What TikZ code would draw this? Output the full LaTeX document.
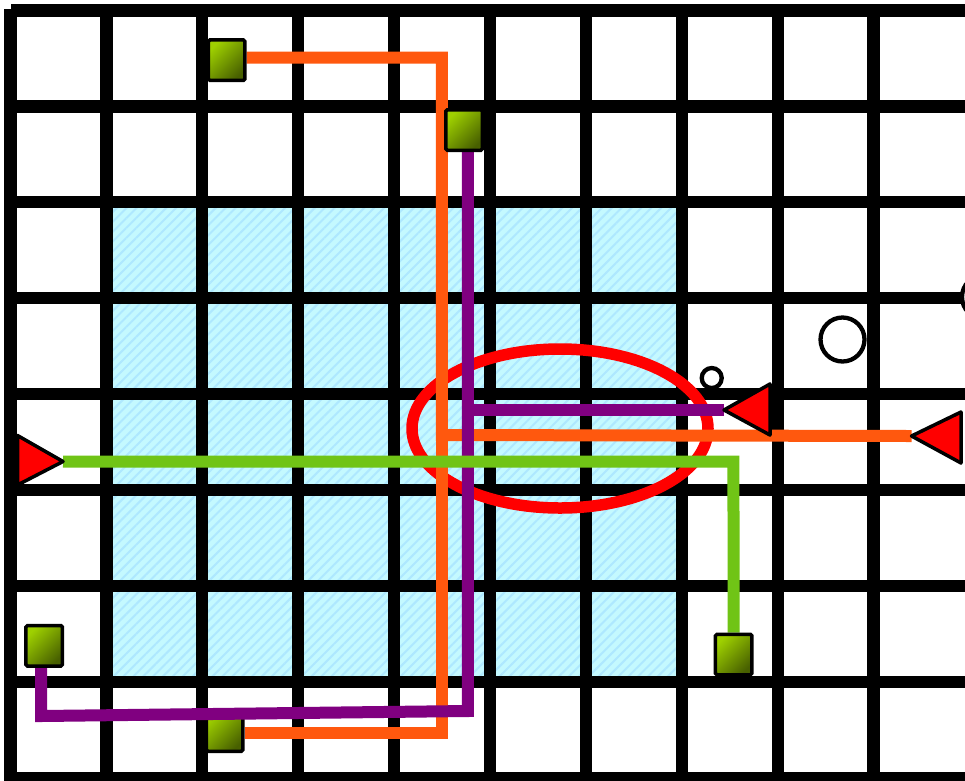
\documentclass[tikz,border=0pt]{standalone}
\usetikzlibrary{patterns.meta}
\definecolor{cyanbg}{RGB}{196,249,255}
\definecolor{cyanst}{RGB}{174,232,255}
\definecolor{orng}{RGB}{255,88,14}
\definecolor{purp}{RGB}{128,0,128}
\definecolor{grn}{RGB}{112,196,22}
\definecolor{sqlight}{RGB}{158,208,0}
\definecolor{sqdark}{RGB}{72,96,0}
\definecolor{redc}{RGB}{255,0,0}
\pgfdeclarelayer{bg}
\pgfdeclarelayer{wireA}
\pgfdeclarelayer{sqlow}
\pgfdeclarelayer{wireB}
\pgfsetlayers{bg,wireA,sqlow,wireB,main}
\begin{document}
\begin{tikzpicture}[x=1pt,y=-1pt,
  gridline/.style={line width=12.3pt, black},
  wire/.style={line width=12pt},
  sq/.style={draw=black, line width=3.5pt, rounded corners=1.5pt, top color=sqlight, bottom color=sqdark, shading angle=45, minimum width=36.5pt, minimum height=40.5pt, inner sep=0pt},
  tri/.style={fill=redc, draw=black, line width=3.5pt, line join=round},
  ring/.style={circle, draw=black, line width=4.3pt, fill=white, inner sep=0pt}
]
\useasboundingbox (0,0) rectangle (965,780);
\begin{pgfonlayer}{bg}
  \fill[white] (0,0) rectangle (965,780);
  \fill[cyanbg] (107.5,202) rectangle (682.5,681.5);
  \fill[pattern={Lines[angle=45,distance=7pt,line width=2pt]}, pattern color=cyanst] (107.5,202) rectangle (682.5,681.5);
  \foreach \i in {0,...,9} \draw[gridline] ({10.5+95.9*\i},9) -- ({10.5+95.9*\i},795);
  \foreach \j in {0,...,8} \draw[gridline] (11,{10.5+95.9*\j}) -- (980,{10.5+95.9*\j});
  \draw[redc, line width=11.5pt] (560,428.5) ellipse[x radius=148pt, y radius=79.5pt];
\end{pgfonlayer}
% squares
\node[sq] (sq1) at (226.7,60.2) {};
\node[sq] (sq2) at (464.2,130) {};
\node[sq] (sq3) at (44.2,645.8) {};
\node[sq] (sq5) at (733.7,654.5) {};
\begin{pgfonlayer}{sqlow}
  \node[sq] (sq4) at (224.7,731) {};
\end{pgfonlayer}
% triangles
\draw[tri] (17.5,435.5) -- (63,461.5) -- (17.5,485) -- cycle;
\coordinate (t1) at (63,461.5);
\draw[tri] (724,410) -- (770,384) -- (770,435) -- cycle;
\coordinate (t2) at (724,410);
\draw[tri] (911.5,436) -- (961,412) -- (961,463) -- cycle;
\coordinate (t3) at (911.5,436);
% circles
\node[ring, minimum size=20pt] (c1) at (711.7,378) {};
\node[ring, minimum size=44pt] (c2) at (842.5,339.5) {};
\node[ring, minimum size=44pt] (c3) at (984,297) {};
% wires
\begin{pgfonlayer}{wireA}
  \draw[wire, orng] ([yshift=2.7pt]sq1.east) -- (441.8,57.5) -- (441.8,435) -- (t3);
  \draw[wire, orng] ([yshift=-1.5pt]sq4.east) -- (441.8,732.5) -- (441.8,435);
\end{pgfonlayer}
\begin{pgfonlayer}{wireB}
  \draw[wire, purp] (t2) -- (467.8,410);
  \draw[wire, purp] ([xshift=3.6pt]sq2.south) -- (467.8,711) -- (41,716) -- ([xshift=-3.2pt]sq3.south);
  \draw[wire, grn] (t1) -- (733.4,461.7) -- (sq5.north);
\end{pgfonlayer}
\end{tikzpicture}
\end{document}
